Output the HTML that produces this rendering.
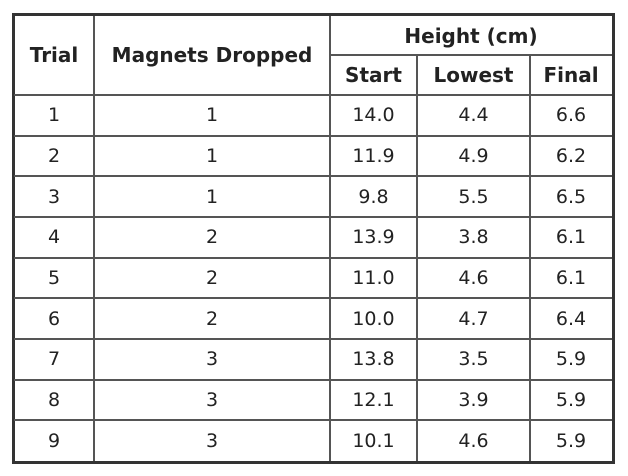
<!DOCTYPE html>
<html><head><meta charset="utf-8"><style>
body{margin:0;width:628px;height:476px;background:#fff;position:relative;overflow:hidden;font-family:"DejaVu Sans","Liberation Sans",sans-serif;color:#222}
.l{position:absolute;background:#555}
.c{position:absolute;text-align:center;font-size:19px;transform:translateX(-50%);white-space:nowrap;line-height:22px}
.h{font-weight:bold;font-size:20px}
#frame{position:absolute;left:12px;top:13px;width:597px;height:445px;border:3px solid #333}
</style></head><body>
<div id="frame"></div>
<div id="t"></div>
<script>
const trials=["1","2","3","4","5","6","7","8","9"];
const magnets=["1","1","1","2","2","2","3","3","3"];
const starts=["14.0","11.9","9.8","13.9","11.0","10.0","13.8","12.1","10.1"];
const lowests=["4.4","4.9","5.5","3.8","4.6","4.7","3.5","3.9","4.6"];
const finals=["6.6","6.2","6.5","6.1","6.1","6.4","5.9","5.9","5.9"];
const cols=[14,94,330,417,530,612];
const top0=16,hdrMid=55,hdrBot=95,bot=461,rowH=(bot-hdrBot)/9;
const root=document.getElementById('t');
function line(x,y,w,h,name){const d=document.createElement('div');d.className='l';d.style.cssText=`left:${x}px;top:${y}px;width:${w}px;height:${h}px`;


root.appendChild(d);}
function txt(s,cx,cy,cls,name){const d=document.createElement('div');d.className='c '+cls;d.textContent=s;d.style.left=cx+'px';d.style.top=(cy-11)+'px';


root.appendChild(d);}
for(let i=1;i<5;i++){line(cols[i]-1,i>=3?hdrMid:top0,2,bot-(i>=3?hdrMid:top0),'column-divider');}
line(cols[2],hdrMid-1,cols[5]-cols[2],2,'header-divider');
line(cols[0],hdrBot-1,cols[5]-cols[0],2,'header-bottom-line');
for(let r=1;r<9;r++)line(cols[0],Math.round(hdrBot+r*rowH)-1,cols[5]-cols[0],2,'row-divider');
txt('Trial',(cols[0]+cols[1])/2,hdrMid,'h','trial-header');
txt('Magnets Dropped',(cols[1]+cols[2])/2,hdrMid,'h','magnets-header');
txt('Height (cm)',(cols[2]+cols[5])/2,(top0+hdrMid)/2,'h','height-header');
txt('Start',(cols[2]+cols[3])/2,(hdrMid+hdrBot)/2,'h','start-header');
txt('Lowest',(cols[3]+cols[4])/2,(hdrMid+hdrBot)/2,'h','lowest-header');
txt('Final',(cols[4]+cols[5])/2,(hdrMid+hdrBot)/2,'h','final-header');
const data=[trials,magnets,starts,lowests,finals];
const names=['trial-cell','magnets-cell','start-cell','lowest-cell','final-cell'];
for(let r=0;r<9;r++){const cy=hdrBot+(r+0.5)*rowH;
for(let c=0;c<5;c++)txt(data[c][r],(cols[c]+cols[c+1])/2,cy,'',names[c]);}
</script>
</body></html>
